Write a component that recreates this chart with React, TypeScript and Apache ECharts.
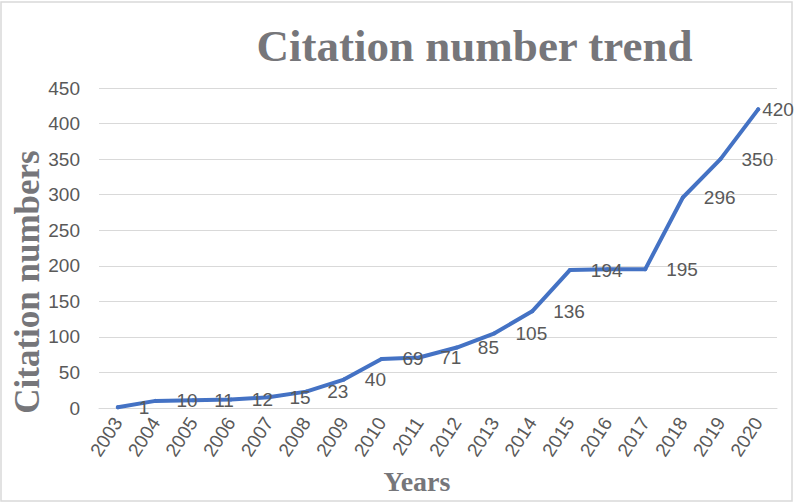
import React, { useEffect, useRef } from "react";
import * as echarts from "echarts";

const years = ["2003","2004","2005","2006","2007","2008","2009","2010","2011","2012","2013","2014","2015","2016","2017","2018","2019","2020"];
const citations = [1, 10, 11, 12, 15, 23, 40, 69, 71, 85, 105, 136, 194, 195, 195, 296, 350, 420];
const hiddenLabelYears = ["2016"];
const titleText = "Citation number trend";
const yAxisTitle = "Citation numbers";
const xAxisTitle = "Years";

export default function App() {
  const ref = useRef<HTMLDivElement>(null);
  useEffect(() => {
    document.body.style.margin = "0";
    const chart = echarts.init(ref.current!, null, { renderer: "svg" });
    const seriesData = citations.map((v, i) => {
      const y = years[i];
      if (hiddenLabelYears.includes(y)) return { value: v, label: { show: false } };
      if (i === years.length - 1) return { value: v, label: { distance: 2 } };
      return { value: v };
    });
    chart.setOption({
      animation: false,
      backgroundColor: "#ffffff",
      grid: { left: 99, right: 23, top: 88, bottom: 95 },
      xAxis: {
        type: "category",
        data: years,
        boundaryGap: true,
        axisLine: { show: true, lineStyle: { color: "#d9d9d9", width: 1 } },
        axisTick: { show: false },
        axisLabel: {
          rotate: 57,
          margin: 11,
          color: "#595959",
          fontSize: 19,
          fontFamily: "Liberation Sans, Arial, sans-serif",
          interval: 0,
        },
      },
      yAxis: {
        type: "value",
        min: 0,
        max: 450,
        interval: 50,
        axisLine: { show: false },
        axisTick: { show: false },
        splitLine: { lineStyle: { color: "#d9d9d9", width: 1 } },
        axisLabel: {
          margin: 19,
          color: "#595959",
          fontSize: 19,
          fontFamily: "Liberation Sans, Arial, sans-serif",
        },
      },
      series: [
        {
          type: "line",
          data: seriesData,
          showSymbol: true,
          symbol: "circle",
          symbolSize: 4,
          lineStyle: { color: "#4472c4", width: 4, join: "round", cap: "round" },
          itemStyle: { color: "#4472c4" },
          label: {
            show: true,
            position: "right",
            distance: 19,
            color: "#595959",
            fontSize: 19,
            fontFamily: "Liberation Sans, Arial, sans-serif",
          },
        },
      ],
      graphic: [
        {
          type: "rect",
          shape: { x: 1, y: 2, width: 791, height: 499 },
          style: { fill: "none", stroke: "#d9d9d9", lineWidth: 1.5 },
          silent: true,
        },
        {
          type: "text",
          x: 474.5,
          y: 46,
          style: {
            text: titleText,
            fill: "#76767a",
            fontSize: 45,
            fontWeight: "bold",
            fontFamily: "Liberation Serif, Times New Roman, serif",
            align: "center",
            verticalAlign: "middle",
          },
        },
        {
          type: "text",
          x: 27,
          y: 282,
          rotation: Math.PI / 2,
          style: {
            text: yAxisTitle,
            fill: "#76767a",
            fontSize: 35,
            fontWeight: "bold",
            fontFamily: "Liberation Serif, Times New Roman, serif",
            align: "center",
            verticalAlign: "middle",
          },
        },
        {
          type: "text",
          x: 417,
          y: 481,
          style: {
            text: xAxisTitle,
            fill: "#76767a",
            fontSize: 28,
            fontWeight: "bold",
            fontFamily: "Liberation Serif, Times New Roman, serif",
            align: "center",
            verticalAlign: "middle",
          },
        },
      ],
    });
    return () => chart.dispose();
  }, []);
  return <div ref={ref} style={{ width: 800, height: 503 }} />;
}
